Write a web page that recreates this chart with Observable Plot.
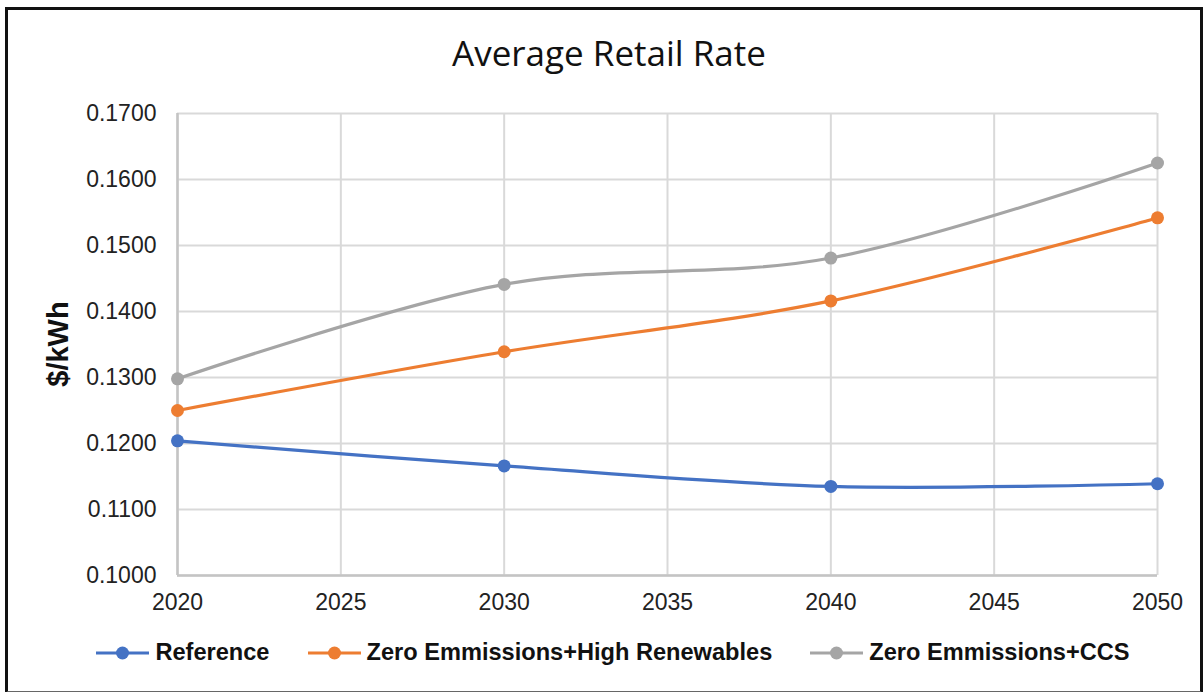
<!DOCTYPE html>
<html>
<head>
<meta charset="utf-8">
<script src="https://cdn.jsdelivr.net/npm/d3@7"></script>
<script src="https://cdn.jsdelivr.net/npm/@observablehq/plot@0.6"></script>
<style>
  html, body { margin: 0; padding: 0; background: #fff; }
  #wrap { position: relative; width: 1204px; height: 692px; overflow: hidden; }
  #frame { position: absolute; left: 5px; top: 7px; width: 1192px; height: 681px;
           border: 3.5px solid #111; border-bottom: 2px solid #666; box-sizing: content-box; pointer-events: none; }
  #title { position: absolute; left: 0; width: 1218px; top: 29px; text-align: center;
           font-family: "Open Sans", Lato, sans-serif; font-size: 35px; color: #111; }
  #ylabel { position: absolute; left: 58px; top: 344px; transform: translate(-50%, -50%) rotate(-90deg);
            font-family: "Liberation Sans", Arial, sans-serif; font-weight: bold; font-size: 29px; color: #111; white-space: nowrap; }
  #legend { position: absolute; left: 0; width: 1226px; top: 639px; display: flex; justify-content: center; gap: 38px;
            font-family: "Liberation Sans", Arial, sans-serif; font-weight: bold; font-size: 23.6px; color: #111; }
  .item { display: flex; align-items: center; gap: 6px; }
  svg { display: block; }
</style>
</head>
<body>
<div id="wrap">
  <div id="chart"></div>
  <div id="title">Average Retail Rate</div>
  <div id="ylabel">$/kWh</div>
  <div id="legend"></div>
  <div id="frame"></div>
</div>
<script>
const years = [2020, 2030, 2040, 2050];
const seriesNames = ["Reference", "Zero Emmissions+High Renewables", "Zero Emmissions+CCS"];
const referenceValues = [0.1204, 0.1166, 0.1135, 0.1139];
const highRenewablesValues = [0.1250, 0.1339, 0.1416, 0.1542];
const ccsValues = [0.1298, 0.1441, 0.1481, 0.1625];
const colors = ["#4472C4", "#ED7D31", "#A5A5A5"];
const xTicks = [2020, 2025, 2030, 2035, 2040, 2045, 2050];
const yTicks = [0.10, 0.11, 0.12, 0.13, 0.14, 0.15, 0.16, 0.17];

const valueSets = [referenceValues, highRenewablesValues, ccsValues];
const data = [];
seriesNames.forEach((s, i) => years.forEach((y, j) => data.push({series: s, year: y, value: valueSets[i][j]})));

const chart = Plot.plot({
  width: 1204,
  height: 692,
  marginTop: 113,
  marginBottom: 117,
  marginLeft: 177,
  marginRight: 47,
  style: { fontFamily: "'Liberation Sans', Arial, sans-serif", fontSize: "23px", color: "#222", background: "transparent" },
  x: { domain: [2020, 2050] },
  y: { domain: [0.10, 0.17] },
  color: { domain: seriesNames, range: colors },
  marks: [
    Plot.gridX(xTicks, { stroke: "#d9d9d9", strokeOpacity: 1, strokeWidth: 2 }),
    Plot.gridY(yTicks, { stroke: "#d9d9d9", strokeOpacity: 1, strokeWidth: 2 }),
    Plot.ruleX([2020], { stroke: "#c4c4c4", strokeWidth: 2.5 }),
    Plot.ruleY([0.10], { stroke: "#c4c4c4", strokeWidth: 2.5 }),
    Plot.axisX({ ticks: xTicks, tickFormat: d => String(d), tickSize: 0, tickPadding: 18, label: null }),
    Plot.axisY({ ticks: yTicks, tickFormat: d3.format(".4f"), tickSize: 0, tickPadding: 21, label: null }),
    Plot.line(data, { x: "year", y: "value", z: "series", stroke: "series", strokeWidth: 3.2,
                      curve: d3.curveCardinal.tension(0) }),
    Plot.dot(data, { x: "year", y: "value", fill: "series", r: 6.5 })
  ]
});
document.getElementById("chart").appendChild(chart);

const legend = document.getElementById("legend");
seriesNames.forEach((s, i) => {
  const item = document.createElement("div");
  item.className = "item";
  item.innerHTML = `<svg width="53" height="16"><line x1="0" y1="8" x2="53" y2="8" stroke="${colors[i]}" stroke-width="3.2"/><circle cx="26.5" cy="8" r="6.5" fill="${colors[i]}"/></svg><span>${s}</span>`;
  legend.appendChild(item);
});
</script>
</body>
</html>
